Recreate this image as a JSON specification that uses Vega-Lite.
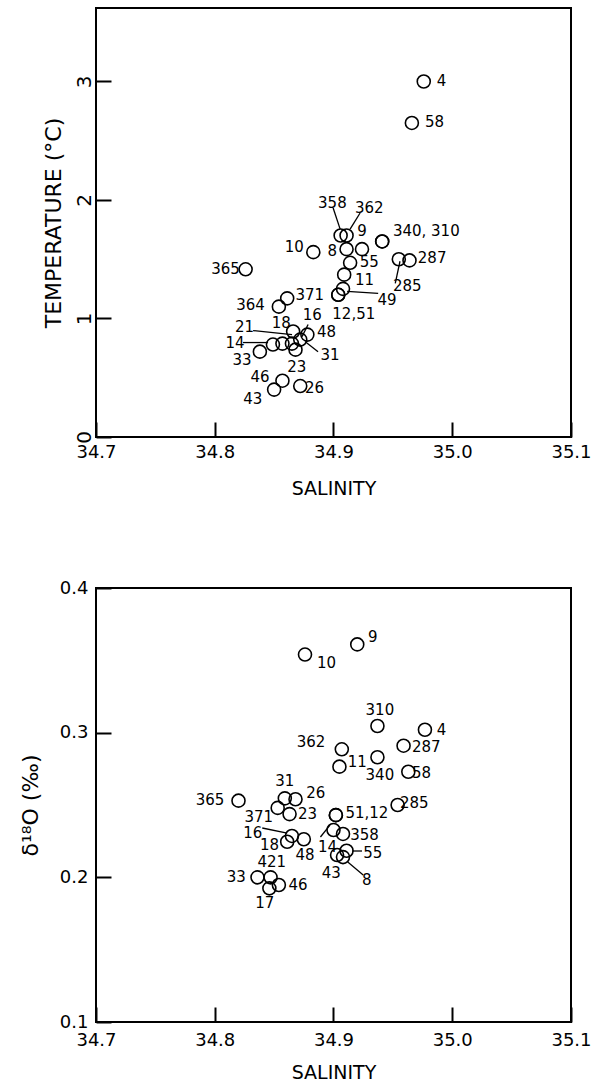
{
  "$schema": "https://vega.github.io/schema/vega-lite/v6.json",
  "padding": {"left": 18, "top": 7, "right": 5, "bottom": 5},
  "config": {
    "font": "DejaVu Sans",
    "view": {"stroke": "black", "strokeWidth": 2},
    "axis": {"domain": false, "grid": false, "ticks": true, "tickColor": "black", "tickWidth": 2, "tickSize": -15, "labelColor": "black", "labelFont": "DejaVu Sans", "labelFontSize": 18, "titleFont": "DejaVu Sans", "titleFontWeight": "normal", "titleColor": "black", "labelFlush": false, "labelOverlap": false},
    "text": {"font": "DejaVu Sans", "fontSize": 15, "color": "black", "align": "left", "baseline": "middle"}
  },
  "datasets": {
    "tPoints": [
      {"station": "4", "salinity": 34.976, "temperature": 3.0},
      {"station": "58", "salinity": 34.966, "temperature": 2.65},
      {"station": "365", "salinity": 34.826, "temperature": 1.415},
      {"station": "10", "salinity": 34.883, "temperature": 1.56},
      {"station": "358", "salinity": 34.906, "temperature": 1.7},
      {"station": "362", "salinity": 34.911, "temperature": 1.7},
      {"station": "9", "salinity": 34.924, "temperature": 1.585},
      {"station": "8", "salinity": 34.911, "temperature": 1.585},
      {"station": "340", "salinity": 34.941, "temperature": 1.65},
      {"station": "310", "salinity": 34.941, "temperature": 1.65},
      {"station": "287", "salinity": 34.964, "temperature": 1.49},
      {"station": "285", "salinity": 34.955, "temperature": 1.5},
      {"station": "55", "salinity": 34.914, "temperature": 1.47},
      {"station": "11", "salinity": 34.909, "temperature": 1.37},
      {"station": "49", "salinity": 34.908, "temperature": 1.25},
      {"station": "12", "salinity": 34.904, "temperature": 1.2},
      {"station": "51", "salinity": 34.904, "temperature": 1.2},
      {"station": "371", "salinity": 34.861, "temperature": 1.17},
      {"station": "364", "salinity": 34.854, "temperature": 1.1},
      {"station": "18", "salinity": 34.866, "temperature": 0.89},
      {"station": "48", "salinity": 34.878, "temperature": 0.864},
      {"station": "16", "salinity": 34.872, "temperature": 0.822},
      {"station": "31", "salinity": 34.865, "temperature": 0.788},
      {"station": "21", "salinity": 34.857, "temperature": 0.788},
      {"station": "14", "salinity": 34.849, "temperature": 0.78},
      {"station": "23", "salinity": 34.868, "temperature": 0.737},
      {"station": "33", "salinity": 34.838, "temperature": 0.72},
      {"station": "46", "salinity": 34.857, "temperature": 0.475},
      {"station": "43", "salinity": 34.85, "temperature": 0.4},
      {"station": "26", "salinity": 34.872, "temperature": 0.43}
    ],
    "tLabels": [
      {"text": "4", "salinity": 34.987, "temperature": 3.0},
      {"text": "58", "salinity": 34.977, "temperature": 2.66},
      {"text": "365", "salinity": 34.797, "temperature": 1.415},
      {"text": "10", "salinity": 34.859, "temperature": 1.6},
      {"text": "8", "salinity": 34.895, "temperature": 1.57},
      {"text": "358", "salinity": 34.887, "temperature": 1.975},
      {"text": "362", "salinity": 34.918, "temperature": 1.93},
      {"text": "9", "salinity": 34.92, "temperature": 1.74},
      {"text": "340, 310", "salinity": 34.95, "temperature": 1.74},
      {"text": "287", "salinity": 34.971, "temperature": 1.51},
      {"text": "285", "salinity": 34.95, "temperature": 1.27},
      {"text": "55", "salinity": 34.922, "temperature": 1.48},
      {"text": "11", "salinity": 34.918, "temperature": 1.325},
      {"text": "49", "salinity": 34.937, "temperature": 1.16},
      {"text": "12,51", "salinity": 34.899, "temperature": 1.04},
      {"text": "371", "salinity": 34.868, "temperature": 1.2},
      {"text": "364", "salinity": 34.818, "temperature": 1.11},
      {"text": "16", "salinity": 34.874, "temperature": 1.03},
      {"text": "18", "salinity": 34.848, "temperature": 0.96},
      {"text": "21", "salinity": 34.817, "temperature": 0.93},
      {"text": "14", "salinity": 34.809, "temperature": 0.795},
      {"text": "48", "salinity": 34.886, "temperature": 0.89},
      {"text": "31", "salinity": 34.889, "temperature": 0.69},
      {"text": "33", "salinity": 34.815, "temperature": 0.65},
      {"text": "23", "salinity": 34.861, "temperature": 0.59},
      {"text": "46", "salinity": 34.83, "temperature": 0.51},
      {"text": "26", "salinity": 34.876, "temperature": 0.415},
      {"text": "43", "salinity": 34.824, "temperature": 0.32}
    ],
    "tLeaders": [
      {"salinity": 34.8997, "temperature": 1.932, "salinity2": 34.9056, "temperature2": 1.754},
      {"salinity": 34.9224, "temperature": 1.89, "salinity2": 34.914, "temperature2": 1.754},
      {"salinity": 34.952, "temperature": 1.297, "salinity2": 34.956, "temperature2": 1.483},
      {"salinity": 34.9376, "temperature": 1.212, "salinity2": 34.9115, "temperature2": 1.229},
      {"salinity": 34.8323, "temperature": 0.898, "salinity2": 34.8651, "temperature2": 0.864},
      {"salinity": 34.8238, "temperature": 0.797, "salinity2": 34.8449, "temperature2": 0.797},
      {"salinity": 34.8786, "temperature": 0.949, "salinity2": 34.8735, "temperature2": 0.847},
      {"salinity": 34.887, "temperature": 0.72, "salinity2": 34.876, "temperature2": 0.805}
    ],
    "dPoints": [
      {"station": "9", "salinity": 34.92, "d18O": 0.361},
      {"station": "10", "salinity": 34.876, "d18O": 0.354},
      {"station": "310", "salinity": 34.937, "d18O": 0.3046},
      {"station": "4", "salinity": 34.977, "d18O": 0.302},
      {"station": "287", "salinity": 34.959, "d18O": 0.291},
      {"station": "362", "salinity": 34.907, "d18O": 0.2885},
      {"station": "340", "salinity": 34.937, "d18O": 0.283},
      {"station": "11", "salinity": 34.905, "d18O": 0.2765},
      {"station": "58", "salinity": 34.963, "d18O": 0.273},
      {"station": "365", "salinity": 34.82, "d18O": 0.253},
      {"station": "31", "salinity": 34.859, "d18O": 0.2546},
      {"station": "26", "salinity": 34.868, "d18O": 0.254},
      {"station": "285", "salinity": 34.954, "d18O": 0.25},
      {"station": "371", "salinity": 34.853, "d18O": 0.248},
      {"station": "23", "salinity": 34.863, "d18O": 0.2437},
      {"station": "51", "salinity": 34.902, "d18O": 0.243},
      {"station": "12", "salinity": 34.902, "d18O": 0.243},
      {"station": "14", "salinity": 34.9, "d18O": 0.2327},
      {"station": "358", "salinity": 34.908, "d18O": 0.23},
      {"station": "16", "salinity": 34.865, "d18O": 0.2286},
      {"station": "18", "salinity": 34.861, "d18O": 0.2246},
      {"station": "48", "salinity": 34.875, "d18O": 0.2263},
      {"station": "55", "salinity": 34.911, "d18O": 0.2184},
      {"station": "43", "salinity": 34.903, "d18O": 0.2154},
      {"station": "8", "salinity": 34.908, "d18O": 0.214},
      {"station": "33", "salinity": 34.836, "d18O": 0.2},
      {"station": "421", "salinity": 34.847, "d18O": 0.2},
      {"station": "46", "salinity": 34.854, "d18O": 0.1947},
      {"station": "17", "salinity": 34.846, "d18O": 0.1924}
    ],
    "dLabels": [
      {"text": "9", "salinity": 34.929, "d18O": 0.366},
      {"text": "10", "salinity": 34.886, "d18O": 0.348},
      {"text": "310", "salinity": 34.927, "d18O": 0.3156},
      {"text": "4", "salinity": 34.987, "d18O": 0.302},
      {"text": "287", "salinity": 34.966, "d18O": 0.29},
      {"text": "340", "salinity": 34.927, "d18O": 0.2707},
      {"text": "58", "salinity": 34.966, "d18O": 0.272},
      {"text": "285", "salinity": 34.956, "d18O": 0.2513},
      {"text": "11", "salinity": 34.912, "d18O": 0.2797},
      {"text": "362", "salinity": 34.869, "d18O": 0.2935},
      {"text": "365", "salinity": 34.784, "d18O": 0.2535},
      {"text": "31", "salinity": 34.851, "d18O": 0.2668},
      {"text": "26", "salinity": 34.877, "d18O": 0.2583},
      {"text": "23", "salinity": 34.87, "d18O": 0.2437},
      {"text": "371", "salinity": 34.825, "d18O": 0.2415},
      {"text": "51,12", "salinity": 34.91, "d18O": 0.2444},
      {"text": "16", "salinity": 34.824, "d18O": 0.2305},
      {"text": "358", "salinity": 34.914, "d18O": 0.2292},
      {"text": "18", "salinity": 34.838, "d18O": 0.2223},
      {"text": "14", "salinity": 34.887, "d18O": 0.2212},
      {"text": "48", "salinity": 34.868, "d18O": 0.2154},
      {"text": "55", "salinity": 34.925, "d18O": 0.2168},
      {"text": "43", "salinity": 34.89, "d18O": 0.2032},
      {"text": "8", "salinity": 34.924, "d18O": 0.198},
      {"text": "421", "salinity": 34.836, "d18O": 0.2108},
      {"text": "33", "salinity": 34.81, "d18O": 0.2},
      {"text": "46", "salinity": 34.862, "d18O": 0.1947},
      {"text": "17", "salinity": 34.834, "d18O": 0.182}
    ],
    "dLeaders": [
      {"salinity": 34.84, "d18O": 0.2341, "salinity2": 34.861, "d18O2": 0.2306},
      {"salinity": 34.889, "d18O": 0.2279, "salinity2": 34.897, "d18O2": 0.2361},
      {"salinity": 34.925, "d18O": 0.2016, "salinity2": 34.912, "d18O2": 0.2106},
      {"salinity": 34.9157, "d18O": 0.2182, "salinity2": 34.924, "d18O2": 0.2182}
    ]
  },
  "bounds": "flush",
  "spacing": 151,
  "vconcat": [
    {
      "width": 475,
      "height": 429,
      "layer": [
        {
          "data": {"name": "tPoints"},
          "mark": {"type": "point", "shape": "circle", "filled": false, "size": 169, "stroke": "black", "strokeWidth": 1.6, "opacity": 1},
          "encoding": {
            "x": {"field": "salinity", "type": "quantitative", "scale": {"domain": [34.7, 35.1], "nice": false, "zero": false},
              "axis": {"title": "SALINITY", "values": [34.7, 34.8, 34.9, 35.0, 35.1], "format": ".1f", "labelPadding": 21, "titleFontSize": 19, "titlePadding": 18}},
            "y": {"field": "temperature", "type": "quantitative", "scale": {"domain": [0, 3.62], "nice": false, "zero": false},
              "axis": {"title": "TEMPERATURE (°C)", "values": [0, 1, 2, 3], "format": "d", "labelAngle": 270, "labelAlign": "center", "labelBaseline": "bottom", "labelPadding": 17, "labelFontSize": 20, "titleFontSize": 22, "titleX": -43, "titleBaseline": "middle"}}
          }
        },
        {
          "data": {"name": "tLeaders"},
          "mark": {"type": "rule", "stroke": "black", "strokeWidth": 1.3},
          "encoding": {
            "x": {"field": "salinity", "type": "quantitative"},
            "x2": {"field": "salinity2"},
            "y": {"field": "temperature", "type": "quantitative"},
            "y2": {"field": "temperature2"}
          }
        },
        {
          "data": {"name": "tLabels"},
          "mark": {"type": "text"},
          "encoding": {
            "x": {"field": "salinity", "type": "quantitative"},
            "y": {"field": "temperature", "type": "quantitative"},
            "text": {"field": "text"}
          }
        }
      ]
    },
    {
      "width": 475,
      "height": 434,
      "layer": [
        {
          "data": {"name": "dPoints"},
          "mark": {"type": "point", "shape": "circle", "filled": false, "size": 169, "stroke": "black", "strokeWidth": 1.6, "opacity": 1},
          "encoding": {
            "x": {"field": "salinity", "type": "quantitative", "scale": {"domain": [34.7, 35.1], "nice": false, "zero": false},
              "axis": {"title": "SALINITY", "values": [34.7, 34.8, 34.9, 35.0, 35.1], "format": ".1f", "labelPadding": 24, "titleFontSize": 19, "titlePadding": 14}},
            "y": {"field": "d18O", "type": "quantitative", "scale": {"domain": [0.1, 0.4], "nice": false, "zero": false},
              "axis": {"title": "δ¹⁸O (‰)", "values": [0.1, 0.2, 0.3, 0.4], "format": ".1f", "labelPadding": 23, "titleFontSize": 22, "titleX": -66, "titleBaseline": "middle"}}
          }
        },
        {
          "data": {"name": "dLeaders"},
          "mark": {"type": "rule", "stroke": "black", "strokeWidth": 1.3},
          "encoding": {
            "x": {"field": "salinity", "type": "quantitative"},
            "x2": {"field": "salinity2"},
            "y": {"field": "d18O", "type": "quantitative"},
            "y2": {"field": "d18O2"}
          }
        },
        {
          "data": {"name": "dLabels"},
          "mark": {"type": "text"},
          "encoding": {
            "x": {"field": "salinity", "type": "quantitative"},
            "y": {"field": "d18O", "type": "quantitative"},
            "text": {"field": "text"}
          }
        }
      ]
    }
  ]
}
